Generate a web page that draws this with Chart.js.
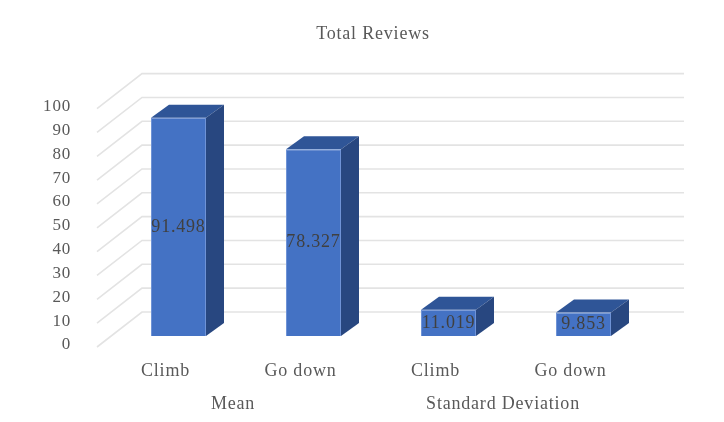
<!DOCTYPE html>
<html>
<head>
<meta charset="utf-8">
<style>
  html, body { margin: 0; padding: 0; background: #fff; }
  canvas { display: block; }
</style>
<script src="https://cdn.jsdelivr.net/npm/chart.js@4/dist/chart.umd.min.js"></script>
</head>
<body>
<canvas id="reviews" width="724" height="422"></canvas>
<script>
const categories = ['Climb', 'Go down', 'Climb', 'Go down'];
const groups = ['Mean', 'Standard Deviation'];
const values = [91.498, 78.327, 11.019, 9.853];
const yTicks = [0, 10, 20, 30, 40, 50, 60, 70, 80, 90, 100];

const serif = '"Liberation Serif", "Times New Roman", serif';
const textColor = '#595959';

// the bars sit in the middle of a fake 3D floor
const wallDx = 31, wallDy = -24;    // bar plane -> back wall
const frontDx = -14, frontDy = 11;  // bar plane -> front edge of the floor
const barDx = 18, barDy = -13;      // depth of one bar

const fake3d = {
  id: 'fake3d',
  beforeDraw(chart) {
    // reference text is set wide
    chart.ctx.letterSpacing = '0.8px';
  },
  beforeDatasetsDraw(chart) {
    const { ctx, chartArea, scales } = chart;
    ctx.save();
    ctx.strokeStyle = '#e3e3e3';
    ctx.lineWidth = 1.6;
    yTicks.forEach((t) => {
      const y = scales.y.getPixelForValue(t);
      ctx.beginPath();
      ctx.moveTo(chartArea.left + frontDx, y + frontDy);
      ctx.lineTo(chartArea.left + wallDx, y + wallDy);
      ctx.lineTo(chartArea.right + wallDx + 2, y + wallDy);
      ctx.stroke();
    });
    // sides and tops go under the front faces
    chart.getDatasetMeta(0).data.forEach((bar) => {
      const half = bar.width / 2;
      const l = bar.x - half, r = bar.x + half, top = bar.y, bottom = bar.base;
      ctx.fillStyle = '#2F5597';
      ctx.beginPath();
      ctx.moveTo(l, top);
      ctx.lineTo(l + barDx, top + barDy);
      ctx.lineTo(r + barDx, top + barDy);
      ctx.lineTo(r, top);
      ctx.closePath();
      ctx.fill();
      ctx.fillStyle = '#284780';
      ctx.beginPath();
      ctx.moveTo(r, top);
      ctx.lineTo(r + barDx, top + barDy);
      ctx.lineTo(r + barDx, bottom + barDy);
      ctx.lineTo(r, bottom);
      ctx.closePath();
      ctx.fill();
    });
    ctx.restore();
  },
  afterDatasetsDraw(chart) {
    const { ctx, scales } = chart;
    ctx.save();
    ctx.textAlign = 'center';
    ctx.textBaseline = 'middle';
    ctx.font = '18px ' + serif;
    ctx.fillStyle = '#404040';
    chart.getDatasetMeta(0).data.forEach((bar, i) => {
      ctx.fillText(values[i].toFixed(3), bar.x, (bar.y + bar.base) / 2);
    });
    // second level of the category axis
    ctx.fillStyle = textColor;
    groups.forEach((g, i) => {
      const x = (scales.x.getPixelForValue(i * 2) + scales.x.getPixelForValue(i * 2 + 1)) / 2;
      ctx.fillText(g, x + frontDx + 1, 404);
    });
    ctx.restore();
  }
};

new Chart(document.getElementById('reviews'), {
  type: 'bar',
  data: {
    labels: categories.map((c, i) => i),
    datasets: [{
      data: values,
      backgroundColor: '#4472C4',
      borderColor: '#6F93D6',
      borderWidth: 1,
      barPercentage: 55 / 135,
      categoryPercentage: 1
    }]
  },
  options: {
    responsive: false,
    animation: false,
    devicePixelRatio: 1,
    layout: { padding: { left: 22, right: 0, top: 14, bottom: 0 } },
    plugins: {
      legend: { display: false },
      tooltip: { enabled: false },
      title: {
        display: true,
        text: 'Total Reviews',
        color: textColor,
        font: { family: serif, size: 18, weight: 'normal' },
        padding: { top: 9, bottom: 53 }
      }
    },
    scales: {
      x: {
        grid: { display: false },
        border: { display: false },
        afterFit(scale) { scale.height = 86; },
        ticks: {
          color: textColor,
          font: { family: serif, size: 18 },
          maxRotation: 0,
          padding: 16,
          labelOffset: -13,
          callback: (v) => categories[v]
        }
      },
      y: {
        min: 0,
        max: 100,
        grid: { display: false },
        border: { display: false },
        afterFit(scale) { scale.width = 89; },
        afterBuildTicks(scale) { scale.ticks = yTicks.map((v) => ({ value: v })); },
        ticks: {
          color: textColor,
          font: { family: serif, size: 17 },
          padding: 32,
          labelOffset: 9
        }
      },
      // empty axis, only keeps the right margin without moving the title
      spacer: {
        position: 'right',
        grid: { display: false },
        border: { display: false },
        ticks: { display: false },
        afterFit(scale) { scale.width = 73; }
      }
    }
  },
  plugins: [fake3d]
});
</script>
</body>
</html>
